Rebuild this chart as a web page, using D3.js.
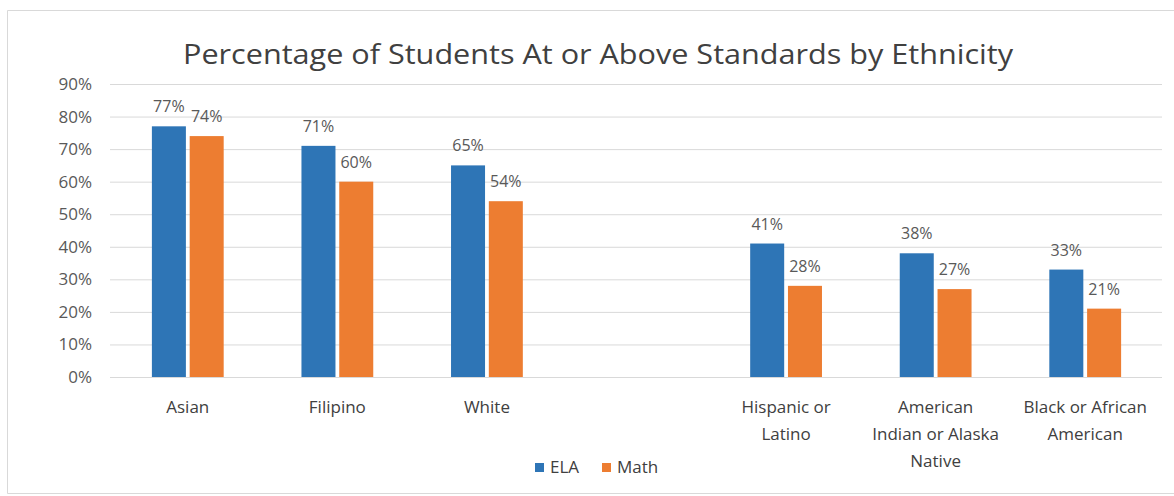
<!DOCTYPE html>
<html>
<head>
<meta charset="utf-8">
<script src="https://cdn.jsdelivr.net/npm/d3@7"></script>
<style>
  body { margin: 0; background: #fff; overflow: hidden; }
  text { font-family: "Open Sans", "Noto Sans", sans-serif; }
</style>
</head>
<body>
<svg id="chart" width="1174" height="496"></svg>
<script>
// data; the empty slot is the gap between White and Hispanic
const categories = ["Asian", "Filipino", "White", "", "Hispanic or\nLatino", "American\nIndian or Alaska\nNative", "Black or African\nAmerican"];
const elaValues = [77, 71, 65, null, 41, 38, 33];
const mathValues = [74, 60, 54, null, 28, 27, 21];
const seriesNames = ["ELA", "Math"];
const yTicks = [0, 10, 20, 30, 40, 50, 60, 70, 80, 90];

const colors = { ELA: "#2E75B6", Math: "#ED7D31" };

const svg = d3.select("#chart");

// frame: top, left and bottom edges only, right side runs off the picture
svg.append("path")
    .attr("d", "M1174,10.5 H7.5 V493.5 H1174")
    .attr("fill", "none")
    .attr("stroke", "#d9d9d9");

const x0 = d3.scaleBand()
    .domain(d3.range(categories.length))
    .range([113, 1160])
    .paddingInner(0.52)
    .paddingOuter(0.26);

const x1 = d3.scaleBand()
    .domain(seriesNames)
    .range([0, x0.bandwidth()])
    .paddingInner(0.1);

const y = d3.scaleLinear().domain([0, 90]).range([377, 84]);

// gridlines
svg.append("g")
    .selectAll("line")
    .data(yTicks)
    .enter().append("line")
    .attr("x1", 110).attr("x2", 1162)
    .attr("y1", d => y(d) + 0.5).attr("y2", d => y(d) + 0.5)
    .attr("stroke", "#d9d9d9")
    .attr("stroke-width", 1);

// y axis labels
const yAxis = d3.axisLeft(y).tickValues(yTicks).tickFormat(d => d + "%").tickSize(0).tickPadding(0);
svg.append("g")
    .attr("transform", "translate(92,0)")
    .call(yAxis)
    .call(g => g.select(".domain").remove())
    .call(g => g.selectAll("text")
        .attr("fill", "#595959")
        .style("font-size", "17px")
        .style("font-family", "'Open Sans', sans-serif"));

// bars
const rows = categories.map((c, i) => ({ i, values: [
    { key: "ELA", value: elaValues[i] },
    { key: "Math", value: mathValues[i] }
].filter(v => v.value !== null) }));

const group = svg.append("g")
    .selectAll("g")
    .data(rows)
    .enter().append("g")
    .attr("transform", d => `translate(${x0(d.i)},0)`);

group.selectAll("rect")
    .data(d => d.values)
    .enter().append("rect")
    .attr("x", d => x1(d.key))
    .attr("y", d => y(d.value))
    .attr("width", x1.bandwidth())
    .attr("height", d => y(0) - y(d.value))
    .attr("fill", d => colors[d.key]);

group.selectAll("text.label")
    .data(d => d.values)
    .enter().append("text")
    .attr("class", "label")
    .attr("x", d => x1(d.key) + x1.bandwidth() / 2)
    .attr("y", d => y(d.value) - 14)
    .attr("text-anchor", "middle")
    .attr("fill", "#595959")
    .style("font-size", "16px")
    .text(d => d.value + "%");

// category labels
const catLabels = svg.append("g")
    .selectAll("text")
    .data(categories)
    .enter().append("text")
    .attr("x", (d, i) => x0(i) + x0.bandwidth() / 2)
    .attr("y", 413)
    .attr("text-anchor", "middle")
    .attr("fill", "#404040")
    .style("font-size", "17px");

catLabels.each(function(d) {
    const t = d3.select(this);
    d.split("\n").forEach((line, k) => {
        t.append("tspan")
            .attr("x", t.attr("x"))
            .attr("dy", k === 0 ? 0 : 27)
            .text(line);
    });
});

// title
svg.append("text")
    .attr("x", 598)
    .attr("y", 64)
    .attr("text-anchor", "middle")
    .attr("fill", "#404040")
    .style("font-size", "28px")
    .attr("textLength", 830)
    .attr("lengthAdjust", "spacingAndGlyphs")
    .text("Percentage of Students At or Above Standards by Ethnicity");

// legend
const legend = svg.append("g").attr("transform", "translate(535,462)");
const legendX = [0, 67];
seriesNames.forEach((name, k) => {
    const g = legend.append("g").attr("transform", `translate(${legendX[k]},0)`);
    g.append("rect").attr("width", 9).attr("height", 9).attr("y", 1).attr("fill", colors[name]);
    g.append("text")
        .attr("x", 15).attr("y", 11)
        .attr("fill", "#404040")
        .style("font-size", "17px")
        .text(name);
});
</script>
</body>
</html>
